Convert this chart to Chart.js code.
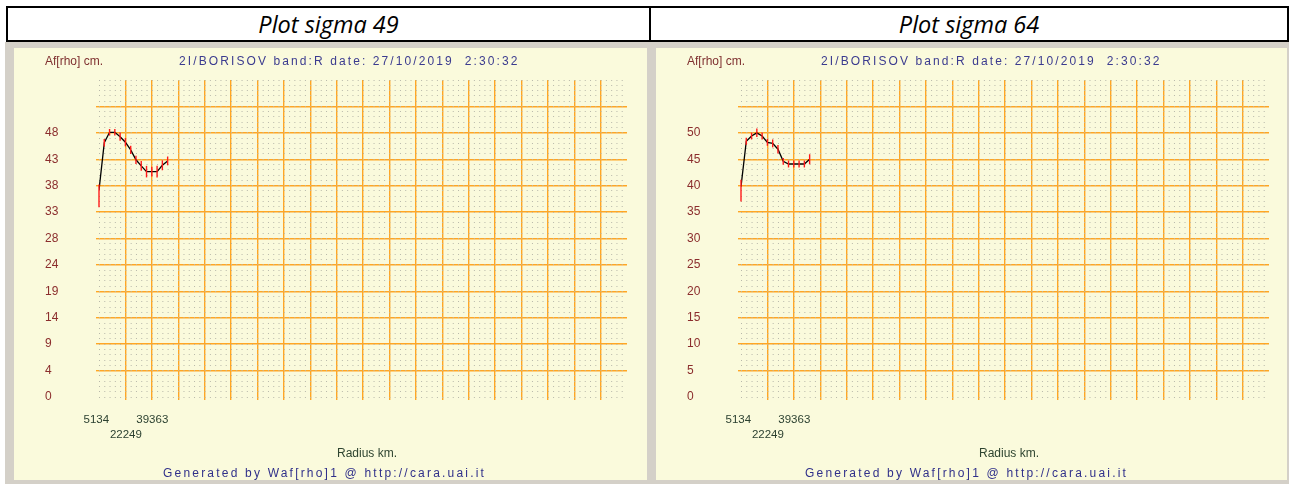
<!DOCTYPE html>
<html>
<head>
<meta charset="utf-8">
<script src="https://cdn.jsdelivr.net/npm/chart.js@4.4.1/dist/chart.umd.min.js"></script>
<style>
  html, body { margin:0; padding:0; background:#ffffff; width:1292px; height:484px; overflow:hidden; }
  #frame { position:absolute; left:6px; top:6px; width:1283px; height:36px; border:2px solid #000; box-sizing:border-box; }
  #divider { position:absolute; left:649px; top:6px; width:2px; height:36px; background:#000; }
  .hcell { position:absolute; top:8px; height:32px; line-height:32px; text-align:center;
           font-family:"Open Sans", "Noto Sans", sans-serif; font-style:italic; font-size:23.5px; color:#000; }
  #gray { position:absolute; left:5px; top:42px; width:1284px; height:442px; background:#d4d0c8; }
  .panel { position:absolute; top:48px; height:432px; background:#fafadc; }
  .panel canvas { position:absolute; left:0; top:0; }
  .txt { position:absolute; font-family:"Liberation Sans", Arial, sans-serif; font-size:12px; line-height:14px; white-space:pre; }
  .ylab { left:31px; top:6px; color:#7f3030; }
  .title { left:165px; top:6px; color:#3b3b8f; letter-spacing:2.1px; }
  .xlab { left:323px; top:398px; color:#2e4430; }
  .gen { left:149px; top:418px; color:#30308a; letter-spacing:2.2px; }
</style>
</head>
<body>
<div id="frame"></div>
<div id="divider"></div>
<div class="hcell" style="left:8px; width:641px;">Plot sigma 49</div>
<div class="hcell" style="left:651px; width:636px;">Plot sigma 64</div>
<div id="gray"></div>
<div class="panel" style="left:14px; width:633px;">
  <canvas id="c49" width="633" height="432"></canvas>
  <div class="txt ylab">Af[rho] cm.</div>
  <div class="txt title">2I/BORISOV band:R date: 27/10/2019  2:30:32</div>
  <div class="txt xlab">Radius km.</div>
  <div class="txt gen">Generated by Waf[rho]1 @ http://cara.uai.it</div>
</div>
<div class="panel" style="left:656px; width:631px;">
  <canvas id="c64" width="631" height="432"></canvas>
  <div class="txt ylab">Af[rho] cm.</div>
  <div class="txt title">2I/BORISOV band:R date: 27/10/2019  2:30:32</div>
  <div class="txt xlab">Radius km.</div>
  <div class="txt gen">Generated by Waf[rho]1 @ http://cara.uai.it</div>
</div>
<script>
// ---- data ----
const radiiKm = [5134, 8557, 11980, 15403, 18826, 22249, 25672, 29095, 32518, 35940, 39363, 42786, 46209, 49632];

const afrhoSigma49 = [37.6, 46.2, 48.1, 48.1, 47.3, 46.3, 44.9, 43.1, 42.0, 40.95, 40.95, 40.95, 42.1, 42.9];
const errMinus49   = [3.1, 0.7, 0.6, 0.6, 0.75, 0.75, 0.75, 0.75, 0.9, 1.05, 0.9, 1.05, 0.9, 0.8];
const errPlus49    = [1.0, 0.7, 0.6, 0.6, 0.75, 0.75, 0.75, 0.75, 0.9, 1.05, 0.9, 1.05, 0.9, 0.8];

const afrhoSigma64 = [39.8, 48.4, 49.4, 50.0, 49.4, 48.2, 48.0, 46.9, 44.6, 44.1, 44.1, 44.1, 44.1, 45.0];
const errMinus64   = [2.8, 0.65, 0.65, 0.8, 0.65, 0.65, 0.75, 0.8, 0.65, 0.65, 0.65, 0.65, 0.65, 0.95];
const errPlus64    = [1.3, 0.65, 0.65, 0.8, 0.65, 0.65, 0.75, 0.8, 0.65, 0.65, 0.65, 0.65, 0.65, 0.95];

const xTickLabels = ['5134', '22249', '39363'];
const xMin = 5134, xStep = 17114.5, xMax = 347424;

const yTickLabels49 = ['0', '4', '9', '14', '19', '24', '28', '33', '38', '43', '48'];
const yMax49 = 57.6, yStep49 = 4.8;
const yTickLabels64 = ['0', '5', '10', '15', '20', '25', '30', '35', '40', '45', '50'];
const yMax64 = 60, yStep64 = 5;

// ---- rendering ----
const ORANGE = '#ffa624';
const majorColor = (ctx) => (ctx.index === 0 || ctx.index === ctx.scale.ticks.length - 1) ? 'rgba(0,0,0,0)' : ORANGE;

const errorBarPlugin = {
  id: 'errorBars',
  afterDatasetsDraw(chart, args, opts) {
    const { ctx } = chart;
    const xs = chart.scales.x, ys = chart.scales.y;
    const ds = chart.data.datasets[0].data;
    ctx.save();
    ctx.strokeStyle = opts.color;
    ctx.lineWidth = opts.width;
    ds.forEach((p, i) => {
      const px = xs.getPixelForValue(p.x);
      ctx.beginPath();
      ctx.moveTo(px, ys.getPixelForValue(p.y - opts.minus[i]));
      ctx.lineTo(px, ys.getPixelForValue(p.y + opts.plus[i]));
      ctx.stroke();
    });
    ctx.restore();
  }
};

function makeChart(id, values, eMinus, ePlus, yMax, yStep, yLabels) {
  const canvas = document.getElementById(id);
  const W = canvas.width, H = canvas.height;
  return new Chart(canvas, {
    type: 'line',
    data: {
      datasets: [{
        data: radiiKm.map((r, i) => ({ x: r, y: values[i] })),
        borderColor: '#000000',
        borderWidth: 1.3,
        pointRadius: 0,
        tension: 0,
        fill: false
      }]
    },
    options: {
      responsive: false,
      animation: false,
      events: [],
      layout: { padding: { left: 31, top: 32, right: W - 613, bottom: 0 } },
      plugins: {
        legend: { display: false },
        tooltip: { enabled: false },
        title: { display: false },
        errorBars: { minus: eMinus, plus: ePlus, color: '#ff1a1a', width: 1.4 }
      },
      scales: {
        x: {
          type: 'linear', position: 'bottom', min: xMin, max: xMax, offset: false,
          afterFit(s) { s.height = H - 349; },
          ticks: {
            stepSize: xStep, autoSkip: false, maxRotation: 0, minRotation: 0,
            align: 'start', labelOffset: -15.5, padding: 12.5, color: '#2b4030',
            font: { family: '"Liberation Sans", Arial, sans-serif', size: 11.5, lineHeight: '15px' },
            callback: (v, i) => i < xTickLabels.length ? (i % 2 ? ['', xTickLabels[i]] : xTickLabels[i]) : ''
          },
          grid: { color: majorColor, lineWidth: 1.4, drawTicks: true, tickLength: 3, tickColor: majorColor, tickWidth: 1.4 },
          border: { display: false }
        },
        y: {
          type: 'linear', position: 'left', min: 0, max: yMax,
          afterFit(s) { s.width = 54; },
          ticks: {
            stepSize: yStep, autoSkip: false, crossAlign: 'far', color: '#8b2d2d',
            font: { family: '"Liberation Sans", Arial, sans-serif', size: 12 },
            callback: (v, i) => (i < yLabels.length ? yLabels[i] : '')
          },
          grid: { color: majorColor, lineWidth: 1.4, drawTicks: true, tickLength: 3, tickColor: majorColor, tickWidth: 1.4 },
          border: { display: false }
        },
        yMinor: {
          type: 'linear', position: 'left', min: 0, max: yMax,
          ticks: { display: false, stepSize: yStep / 5 },
          grid: { color: '#b8b8aa', lineWidth: 1, drawTicks: false, z: -1 },
          border: { display: false, dash: [1, 26.4 / 5 - 1] }
        }
      }
    },
    plugins: [errorBarPlugin]
  });
}

makeChart('c49', afrhoSigma49, errMinus49, errPlus49, yMax49, yStep49, yTickLabels49);
makeChart('c64', afrhoSigma64, errMinus64, errPlus64, yMax64, yStep64, yTickLabels64);
</script>
</body>
</html>
